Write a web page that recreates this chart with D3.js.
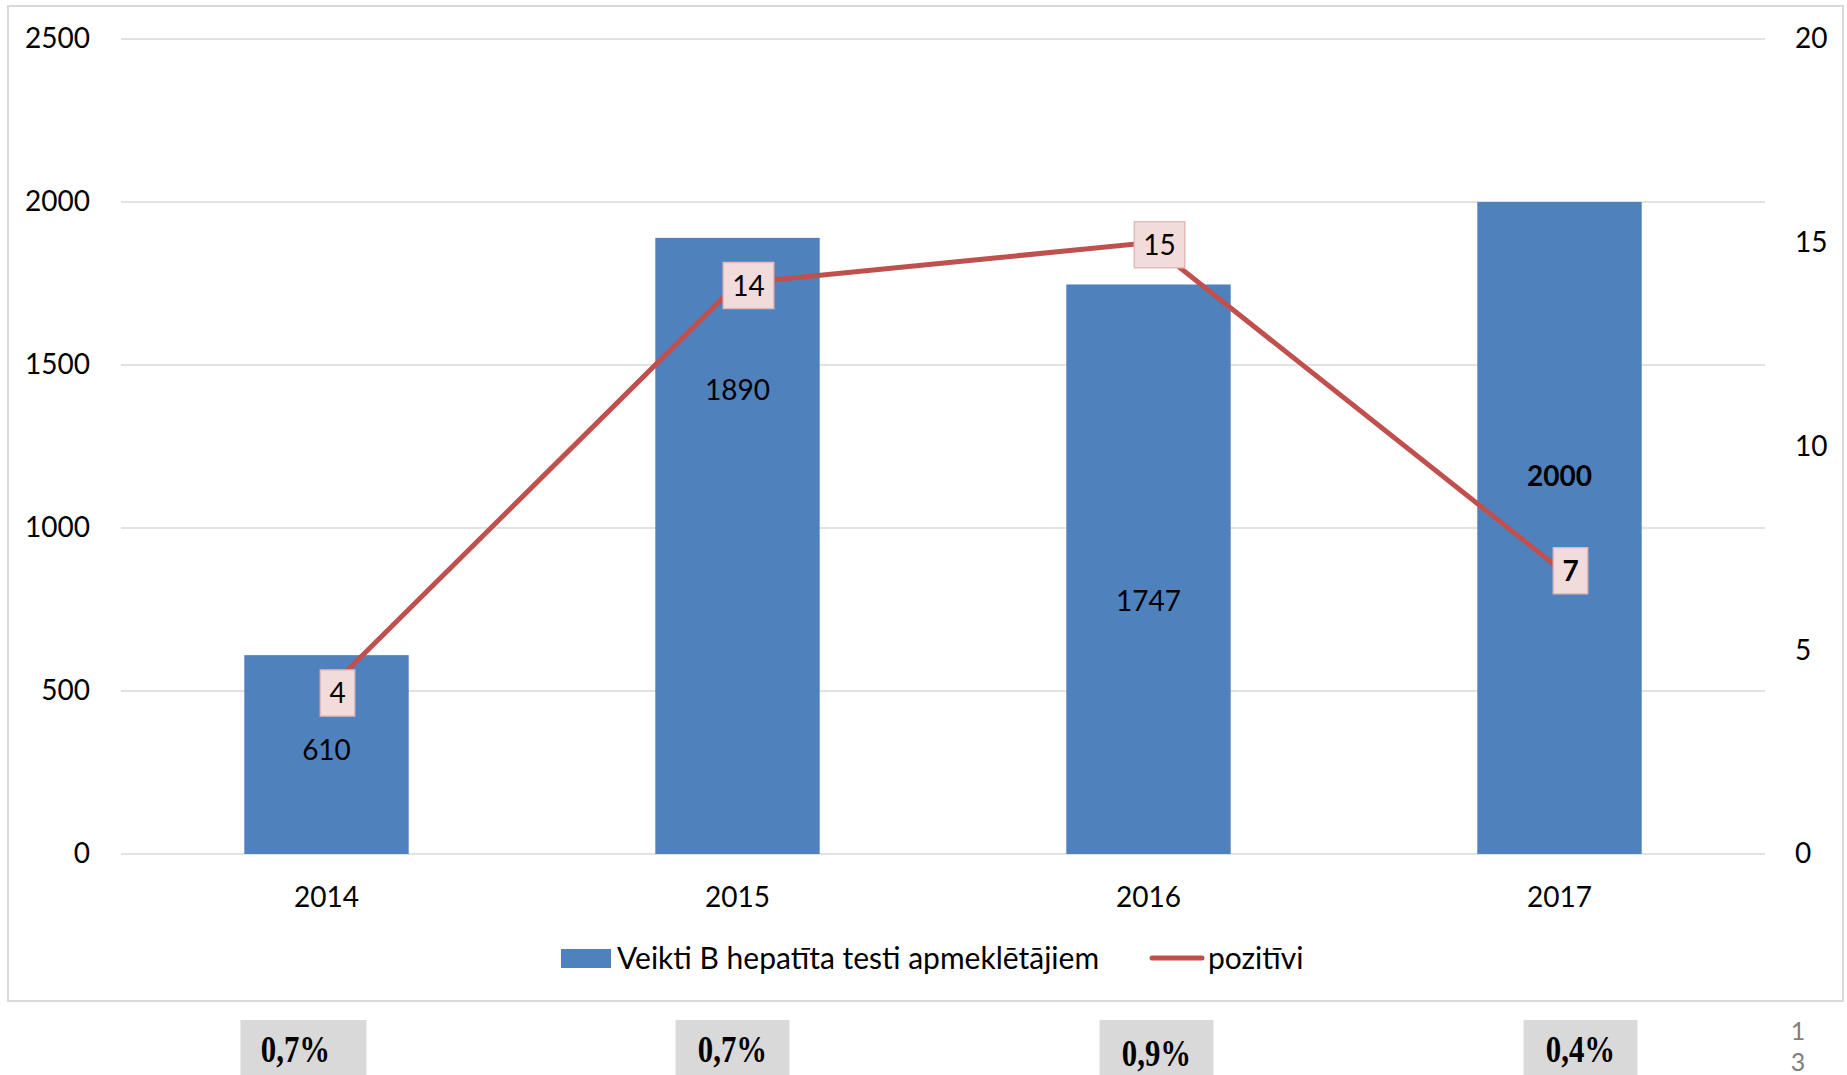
<!DOCTYPE html>
<html>
<head>
<meta charset="utf-8">
<script src="https://cdn.jsdelivr.net/npm/d3@7"></script>
<style>
  body { margin: 0; background: #fff; }
  text { font-family: Lato, "Open Sans", sans-serif; }
</style>
</head>
<body>
<svg id="chart"></svg>
<script>
// data
var years = ["2014", "2015", "2016", "2017"];
var tests = [610, 1890, 1747, 2000];
var positive = [4, 14, 15, 7];
var shares = ["0,7%", "0,7%", "0,9%", "0,4%"];
var leftTicks = [0, 500, 1000, 1500, 2000, 2500];
var rightTicks = [0, 5, 10, 15, 20];
var seriesNames = ["Veikti B hepatīta testi apmeklētājiem", "pozitīvi"];

// where the bar labels sit (in left-axis units), moved by hand in the original
var barLabelAt = [320, 1425, 775, 1160];
var boldBar = [false, false, false, true];
var boldPoint = [false, false, false, true];
// offset of the grey percentage boxes below the chart
var shareShift = [-23, -5, 8, 21];

var W = 1847, H = 1075;
var svg = d3.select('#chart').attr('width', W).attr('height', H);

// outer chart frame
svg.append('rect')
    .attr('x', 8).attr('y', 6)
    .attr('width', 1835).attr('height', 995)
    .attr('fill', '#fff')
    .attr('stroke', '#d9d9d9').attr('stroke-width', 2);

var x = d3.scaleBand().domain(years).range([121, 1765])
    .paddingInner(0.6).paddingOuter(0.3);
var yL = d3.scaleLinear().domain([0, 2500]).range([854, 39]);
var yR = d3.scaleLinear().domain([0, 20]).range([854, 39]);

// gridlines
svg.append('g').selectAll('line')
    .data(leftTicks)
    .enter().append('line')
    .attr('x1', 121).attr('x2', 1765)
    .attr('y1', function(d) { return yL(d); })
    .attr('y2', function(d) { return yL(d); })
    .attr('stroke', '#d9d9d9').attr('stroke-width', 1.6);

// axes
var left = svg.append('g').attr('transform', 'translate(90,0)')
    .call(d3.axisLeft(yL).tickValues(leftTicks).tickFormat(d3.format('d')).tickSize(0).tickPadding(0));
var right = svg.append('g').attr('transform', 'translate(1795,0)')
    .call(d3.axisRight(yR).tickValues(rightTicks).tickFormat(d3.format('d')).tickSize(0).tickPadding(0));
var bottom = svg.append('g').attr('transform', 'translate(0,854)')
    .call(d3.axisBottom(x).tickSize(0).tickPadding(33));
[left, right, bottom].forEach(function(g) {
    g.select('.domain').remove();
    g.selectAll('text')
        .style('font-family', 'Lato, sans-serif')
        .style('font-size', '28px')
        .attr('fill', '#000');
});

// bars
svg.append('g').selectAll('rect')
    .data(tests)
    .enter().append('rect')
    .attr('x', function(d, i) { return x(years[i]); })
    .attr('y', function(d) { return yL(d); })
    .attr('width', x.bandwidth())
    .attr('height', function(d) { return yL(0) - yL(d); })
    .attr('fill', '#4f81bd');

svg.append('g').selectAll('text')
    .data(tests)
    .enter().append('text')
    .attr('x', function(d, i) { return x(years[i]) + x.bandwidth() / 2; })
    .attr('y', function(d, i) { return yL(barLabelAt[i]); })
    .attr('dy', '0.36em')
    .attr('text-anchor', 'middle')
    .style('font-size', '28px')
    .style('font-weight', function(d, i) { return boldBar[i] ? 'bold' : 'normal'; })
    .text(function(d) { return d; });

// line
var cx = function(i) { return x(years[i]) + x.bandwidth() / 2; };
var line = d3.line()
    .x(function(d, i) { return cx(i); })
    .y(function(d) { return yR(d); });

svg.append('path')
    .datum(positive)
    .attr('d', line)
    .attr('fill', 'none')
    .attr('stroke', '#c0504d')
    .attr('stroke-width', 5);

// point labels in pink boxes
var pl = svg.append('g').selectAll('g')
    .data(positive)
    .enter().append('g')
    .attr('transform', function(d, i) { return 'translate(' + (cx(i) + 11) + ',' + (yR(d) + 2) + ')'; });

pl.append('rect')
    .attr('fill', '#f2dcdb')
    .attr('stroke', '#e6b9b8')
    .attr('stroke-width', 1.5);

pl.append('text')
    .attr('text-anchor', 'middle')
    .attr('dy', '0.36em')
    .style('font-size', '28px')
    .style('font-weight', function(d, i) { return boldPoint[i] ? 'bold' : 'normal'; })
    .text(function(d) { return d; });

pl.each(function() {
    var g = d3.select(this);
    var w = g.select('text').node().getComputedTextLength() + 18;
    g.select('rect')
        .attr('x', -w / 2).attr('y', -23)
        .attr('width', w).attr('height', 46);
});

// legend
var lg = svg.append('g');
lg.append('rect')
    .attr('x', 561).attr('y', 949)
    .attr('width', 50).attr('height', 19)
    .attr('fill', '#4f81bd');
lg.append('text')
    .attr('x', 617).attr('y', 958).attr('dy', '0.36em')
    .style('font-size', '30px')
    .text(seriesNames[0]);
lg.append('line')
    .attr('x1', 1152).attr('x2', 1202)
    .attr('y1', 958).attr('y2', 958)
    .attr('stroke', '#c0504d').attr('stroke-width', 5)
    .attr('stroke-linecap', 'round');
lg.append('text')
    .attr('x', 1208).attr('y', 958).attr('dy', '0.36em')
    .style('font-size', '30px')
    .text(seriesNames[1]);

// percentage boxes under the chart
var sh = svg.append('g').selectAll('g')
    .data(shares)
    .enter().append('g')
    .attr('transform', function(d, i) { return 'translate(' + (cx(i) + shareShift[i]) + ',0)'; });

sh.append('rect')
    .attr('x', function(d, i) { return i === 0 ? -63 : -57; })
    .attr('y', 1020)
    .attr('width', function(d, i) { return i === 0 ? 126 : 114; })
    .attr('height', 60)
    .attr('fill', '#d9d9d9');

sh.append('text')
    .attr('text-anchor', 'middle')
    .attr('transform', function(d, i) { return 'translate(' + (i === 0 ? -8 : 0) + ',' + (i === 2 ? 1066 : 1062) + ') scale(0.88,1.08)'; })
    .style('font-family', '"Liberation Serif", "Times New Roman", serif')
    .style('font-weight', 'bold')
    .style('font-size', '35px')
    .text(function(d) { return d; });

// page number fragment at the right edge
svg.append('text').attr('x', 1798).attr('y', 1040).attr('text-anchor', 'middle')
    .style('font-size', '25px').attr('fill', '#7f7f7f').text('1');
svg.append('text').attr('x', 1798).attr('y', 1071).attr('text-anchor', 'middle')
    .style('font-size', '25px').attr('fill', '#7f7f7f').text('3');
</script>
</body>
</html>
